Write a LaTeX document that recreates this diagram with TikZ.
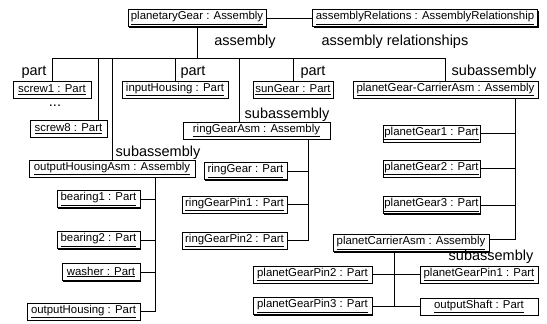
\documentclass[tikz,border=0pt]{standalone}
\usepackage{fontspec}
\setmainfont{Liberation Sans}
\usetikzlibrary{shadows}
\begin{document}
\begin{tikzpicture}[x=1pt,y=-1pt,
  obj/.style={draw, line width=0.7pt, fill=white, inner xsep=1.5pt, inner ysep=0pt,
    minimum height=17pt, font=\fontsize{11.4}{12}\selectfont,
    drop shadow={shadow xshift=1.1pt, shadow yshift=-1.1pt, fill=black, opacity=1}},
  role/.style={font=\fontsize{14.5}{16}\selectfont, inner sep=0pt},
  link/.style={line width=0.8pt}]
\useasboundingbox (0,0) rectangle (547,324);

% object boxes
\node[obj, minimum width=138pt] (pg)   at (197,18)    {\underline{planetaryGear : Assembly}};
\node[obj, minimum width=225pt] (ar)   at (425,18)    {\underline{assemblyRelations : AssemblyRelationship}};
\node[obj, minimum width=78pt]  (s1)   at (52,89.5)   {\underline{screw1 : Part}};
\node[obj, minimum width=106pt] (ih)   at (175,89.5)  {\underline{inputHousing : Part}};
\node[obj, minimum width=80pt]  (sg)   at (293,89.5)  {\underline{sunGear : Part}};
\node[obj, minimum width=185pt] (pgc)  at (445.5,89.5){\underline{planetGear-CarrierAsm : Assembly}};
\node[obj, minimum width=77pt]  (s8)   at (68.5,128.5){\underline{screw8 : Part}};
\node[obj, minimum width=147pt] (rga)  at (256.5,130.5){\underline{ringGearAsm : Assembly}};
\node[obj, minimum width=166pt] (oha)  at (112,168.5) {\underline{outputHousingAsm : Assembly}};
\node[obj, minimum width=83pt]  (rg)   at (245.5,171) {\underline{ringGear : Part}};
\node[obj, minimum width=83pt]  (pg1)  at (431.5,133.5){\underline{planetGear1 : Part}};
\node[obj, minimum width=83pt]  (pg2)  at (431.5,168.5){\underline{planetGear2 : Part}};
\node[obj, minimum width=83pt]  (pg3)  at (431.5,205) {\underline{planetGear3 : Part}};
\node[obj, minimum width=105pt] (rgp1) at (234.5,204.5){\underline{ringGearPin1 : Part}};
\node[obj, minimum width=83pt]  (b1)   at (98.5,199)  {\underline{bearing1 : Part}};
\node[obj, minimum width=105pt] (rgp2) at (234.5,240.5){\underline{ringGearPin2 : Part}};
\node[obj, minimum width=83pt]  (b2)   at (98.5,240)  {\underline{bearing2 : Part}};
\node[obj, minimum width=156pt] (pca)  at (411,243)   {\underline{planetCarrierAsm : Assembly}};
\node[obj, minimum width=119pt] (pgp2) at (312.5,274.5){\underline{planetGearPin2 : Part}};
\node[obj, minimum width=118pt] (pgp1) at (479,274.5) {\underline{planetGearPin1 : Part}};
\node[obj, minimum width=78pt]  (wa)   at (101,272)   {\underline{washer : Part}};
\node[obj, minimum width=119pt] (pgp3) at (312.5,306) {\underline{planetGearPin3 : Part}};
\node[obj, minimum width=118pt] (os)   at (479,306.5) {\underline{outputShaft : Part}};
\node[obj, minimum width=113pt] (oh)   at (83.5,311.5){\underline{outputHousing : Part}};

% role labels
\node[role] (lasm)  at (245,42)  {assembly};
\node[role] (lrel)  at (395,42)  {assembly relationships};
\node[role] (lp1)   at (34,72)   {part};
\node[role] (lp2)   at (193,72)  {part};
\node[role] (lp3)   at (313,72)  {part};
\node[role] (lsub1) at (494,72)  {subassembly};
\node[role] (ldots) at (55,106)  {...};
\node[role] (lsub2) at (287,115) {subassembly};
\node[role] (lsub3) at (158,153) {subassembly};
\node[role] (lsub4) at (491,257) {subassembly};

% top level
\draw[link] (pg.east) -- (ar.west);
\coordinate (busL) at (52,58);
\draw[link] (pg.south) -- (pg.south |- busL);
\draw[link] (s1.north |- busL) -- (pgc.north |- busL);
\draw[link] (s1.north) -- (s1.north |- busL);
\coordinate (s8top) at ([xshift=-9pt]s8.north east);
\draw[link] (s8top) -- (s8top |- busL);
\draw[link] (oha.north) -- (oha.north |- busL);
\draw[link] (ih.north) -- (ih.north |- busL);
\coordinate (rgatop) at ([xshift=-17.5pt]rga.north);
\draw[link] (rgatop) -- (rgatop |- busL);
\draw[link] (sg.north) -- (sg.north |- busL);
\draw[link] (pgc.north) -- (pgc.north |- busL);

% ring gear subassembly
\coordinate (rgT) at ([xshift=-22pt]rga.south east);
\draw[link] (rgT) |- (rgp2.east);
\draw[link] (rg.east) -- (rg.east -| rgT);
\draw[link] (rgp1.east) -- (rgp1.east -| rgT);

% output housing subassembly
\coordinate (ohT) at ([xshift=-40pt]oha.south east);
\draw[link] (ohT) |- (oh.east);
\draw[link] (b1.east) -- (b1.east -| ohT);
\draw[link] (b2.east) -- (b2.east -| ohT);
\draw[link] (wa.east) -- (wa.east -| ohT);

% planet gear carrier subassembly
\coordinate (pgcT) at ([xshift=-23pt]pgc.south east);
\draw[link] (pgcT) |- ([yshift=4pt]pca.east);
\draw[link] (pg1.east) -- (pg1.east -| pgcT);
\draw[link] (pg2.east) -- (pg2.east -| pgcT);
\draw[link] (pg3.east) -- (pg3.east -| pgcT);

% planet carrier subassembly
\coordinate (pcaT) at ([xshift=62pt]pca.south west);
\draw[link] (pcaT) |- (os.west);
\draw[link] (pgp2.east) -- (pgp1.west);
\draw[link] (pgp3.east) -- (pgp3.east -| pcaT);
\end{tikzpicture}
\end{document}
